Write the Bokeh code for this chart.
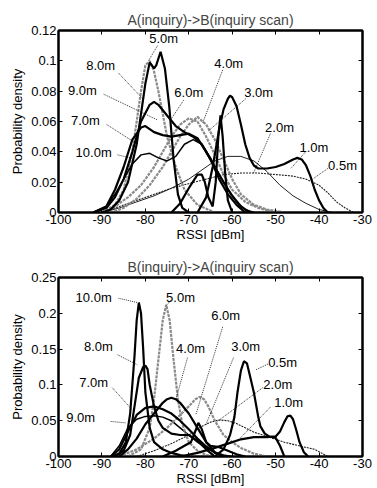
from bokeh.plotting import figure
from bokeh.layouts import column
from bokeh.models import LinearAxis, FixedTicker, Range1d
from bokeh.embed import file_html
from bokeh.resources import INLINE
from bokeh.core.properties import value

FONT = "Liberation Sans"

# ---------------- axis ticks ----------------
x_ticks = [-100, -90, -80, -70, -60, -50, -40, -30]
x_tick_labels = ["-100", "-90", "-80", "-70", "-60", "-50", "-40", "-30"]
top_y_ticks = [0, 0.02, 0.04, 0.06, 0.08, 0.1, 0.12]
top_y_tick_labels = ["0", "0.02", "0.04", "0.06", "0.08", "0.1", "0.12"]
bot_y_ticks = [0, 0.05, 0.1, 0.15, 0.2, 0.25]
bot_y_tick_labels = ["0", "0.05", "0.1", "0.15", "0.2", "0.25"]

# ---------------- A(inquiry)->B(inquiry scan) ----------------
ab_05_x = [-90, -86, -82, -78, -74, -70, -66, -62, -58, -54, -50, -46, -43, -40, -38, -36, -34, -32]
ab_05_y = [0, 0.004, 0.008, 0.012, 0.016, 0.019, 0.022, 0.025, 0.026, 0.026, 0.025, 0.024, 0.022, 0.018, 0.013, 0.007, 0.003, 0]
ab_10_x = [-68, -66, -64.5, -63, -62, -61, -60.5, -60, -59, -58, -57, -56, -55, -54, -52, -50, -48, -46, -45, -44, -43, -42, -41, -40, -39, -38]
ab_10_y = [0, 0.01, 0.03, 0.055, 0.068, 0.075, 0.077, 0.076, 0.07, 0.058, 0.045, 0.036, 0.031, 0.029, 0.029, 0.03, 0.032, 0.035, 0.036, 0.035, 0.031, 0.024, 0.015, 0.008, 0.003, 0]
ab_20_x = [-90, -86, -82, -78, -74, -70, -67, -64, -61, -58, -55, -52, -49, -46, -43, -40, -37]
ab_20_y = [0, 0.003, 0.007, 0.011, 0.016, 0.022, 0.028, 0.034, 0.037, 0.037, 0.034, 0.027, 0.018, 0.011, 0.006, 0.002, 0]
ab_30_x = [-74, -72, -70, -68, -67, -66.3, -65.5, -64.5, -63.8, -63.2, -62.7, -62.2, -61.6, -61, -60]
ab_30_y = [0, 0.006, 0.016, 0.025, 0.025, 0.02, 0.01, 0.004, 0.02, 0.05, 0.064, 0.05, 0.025, 0.008, 0]
ab_40_x = [-88, -85, -82, -79, -76, -74, -72, -70, -68, -66, -64, -62, -60, -58, -55, -52, -48]
ab_40_y = [0, 0.003, 0.009, 0.018, 0.03, 0.04, 0.05, 0.058, 0.063, 0.058, 0.048, 0.035, 0.022, 0.012, 0.005, 0.002, 0]
ab_50_x = [-90, -88, -86, -84, -82, -80, -79, -78, -77.5, -76.5, -75.5, -74.5, -73.5, -72.5, -71.5, -70]
ab_50_y = [0, 0.002, 0.008, 0.02, 0.045, 0.085, 0.099, 0.095, 0.097, 0.106, 0.095, 0.07, 0.035, 0.012, 0.003, 0]
ab_60_x = [-90, -87, -84, -81, -78, -76, -74, -72, -70, -68, -66, -64, -62, -60, -57, -54, -50]
ab_60_y = [0, 0.004, 0.01, 0.018, 0.03, 0.04, 0.05, 0.058, 0.062, 0.06, 0.05, 0.038, 0.025, 0.015, 0.007, 0.003, 0]
ab_70_x = [-92, -89, -87, -85, -83, -81, -80, -78, -76, -74, -72, -70, -68, -66, -64, -62, -60, -58, -56]
ab_70_y = [0, 0.004, 0.015, 0.03, 0.048, 0.056, 0.057, 0.053, 0.051, 0.05, 0.051, 0.052, 0.049, 0.04, 0.03, 0.02, 0.011, 0.004, 0]
ab_80_x = [-90, -87, -85, -83, -81, -80, -79, -78, -77, -75, -73, -71, -68, -64]
ab_80_y = [0, 0.005, 0.015, 0.04, 0.08, 0.097, 0.1, 0.093, 0.08, 0.05, 0.03, 0.015, 0.005, 0]
ab_90_x = [-92, -89, -87, -85, -83, -81, -79, -78, -77, -75, -73, -71, -69, -67, -65, -63, -61, -59, -57]
ab_90_y = [0, 0.003, 0.01, 0.022, 0.04, 0.06, 0.071, 0.073, 0.071, 0.064, 0.057, 0.053, 0.05, 0.045, 0.035, 0.022, 0.012, 0.005, 0]
ab_100_x = [-92, -89, -87, -85, -83, -81, -79, -77, -75, -73, -71, -69, -67, -65, -63, -61, -59, -57, -55]
ab_100_y = [0, 0.004, 0.012, 0.022, 0.032, 0.038, 0.039, 0.036, 0.034, 0.037, 0.045, 0.048, 0.045, 0.036, 0.025, 0.015, 0.007, 0.002, 0]

ab_label_text = ["5.0m", "8.0m", "9.0m", "6.0m", "7.0m", "10.0m", "4.0m", "3.0m", "2.0m", "1.0m", "0.5m"]
ab_label_x = [-75.8, -90.3, -94.5, -70.0, -93.8, -91.9, -60.8, -53.9, -49.1, -41.2, -34.6]
ab_label_y = [0.1147, 0.0969, 0.0804, 0.0791, 0.0606, 0.0396, 0.0982, 0.0791, 0.056, 0.0428, 0.031]
ab_lead_x0 = [-77.2, -86.2, -89.6, -71.2, -88.9, -86.4, -62.2, -56.9, -51.2, -43.1, -38.0]
ab_lead_y0 = [0.110, 0.092, 0.078, 0.074, 0.058, 0.038, 0.094, 0.075, 0.052, 0.040, 0.029]
ab_lead_x1 = [-79.3, -80.6, -77.2, -74.2, -82.9, -83.4, -66.8, -65.4, -55.1, -46.5, -41.5]
ab_lead_y1 = [0.100, 0.075, 0.061, 0.061, 0.047, 0.036, 0.059, 0.054, 0.026, 0.029, 0.022]

# ---------------- B(inquiry)->A(inquiry scan) ----------------
ba_05_x = [-64, -62, -60.5, -59.5, -58.8, -58, -57.3, -56.6, -56, -55, -54, -53.5, -52.5, -51.5, -50, -49, -48]
ba_05_y = [0, 0.01, 0.03, 0.055, 0.089, 0.12, 0.133, 0.13, 0.115, 0.089, 0.055, 0.042, 0.032, 0.028, 0.026, 0.015, 0]
ba_10_x = [-72, -68, -64, -61, -58, -55, -52, -50, -49, -48, -47.3, -46.6, -46, -45.3, -44.5, -43.5, -42.5]
ba_10_y = [0, 0.005, 0.012, 0.018, 0.024, 0.027, 0.027, 0.028, 0.035, 0.048, 0.056, 0.057, 0.052, 0.038, 0.02, 0.006, 0]
ba_20_x = [-82, -78, -74, -70, -67, -65, -63, -61, -59, -57, -55, -52, -48, -44, -41, -38]
ba_20_y = [0, 0.008, 0.018, 0.03, 0.042, 0.048, 0.051, 0.05, 0.046, 0.04, 0.034, 0.028, 0.02, 0.014, 0.01, 0]
ba_30_x = [-76, -73, -71, -69.5, -68.5, -67.8, -67, -66, -65, -63, -61, -59, -57]
ba_30_y = [0, 0.008, 0.015, 0.02, 0.035, 0.047, 0.038, 0.02, 0.015, 0.013, 0.008, 0.003, 0]
ba_40_x = [-86, -84, -82, -80, -78, -76, -75, -74, -73, -72, -70, -68, -66, -64, -62]
ba_40_y = [0, 0.01, 0.025, 0.045, 0.06, 0.075, 0.08, 0.082, 0.08, 0.075, 0.06, 0.04, 0.02, 0.006, 0]
ba_50_x = [-84, -81, -79, -78, -77, -76, -75.2, -74.4, -73.5, -72.5, -71.5, -70, -68, -66, -64]
ba_50_y = [0, 0.01, 0.04, 0.08, 0.135, 0.19, 0.212, 0.19, 0.135, 0.08, 0.045, 0.02, 0.008, 0.002, 0]
ba_60_x = [-86, -82, -78, -75, -72, -70, -68.5, -67.5, -66.5, -65.5, -64, -62, -60, -58, -55, -52]
ba_60_y = [0, 0.01, 0.025, 0.04, 0.058, 0.07, 0.08, 0.083, 0.08, 0.07, 0.05, 0.03, 0.02, 0.012, 0.004, 0]
ba_70_x = [-88, -86, -84, -82, -80, -78, -76, -74, -72, -70, -68, -66, -64, -62]
ba_70_y = [0, 0.01, 0.035, 0.058, 0.068, 0.07, 0.066, 0.06, 0.05, 0.038, 0.025, 0.014, 0.005, 0]
ba_80_x = [-87, -85, -83.5, -82.5, -81.5, -80.5, -80, -79.5, -79, -78, -77, -76, -74, -72, -70, -68, -66, -64]
ba_80_y = [0, 0.008, 0.03, 0.07, 0.11, 0.125, 0.127, 0.122, 0.1, 0.07, 0.05, 0.04, 0.032, 0.03, 0.03, 0.022, 0.01, 0]
ba_90_x = [-88, -86, -84, -82, -80, -78, -76, -74, -72, -70, -68, -66, -64, -62, -60]
ba_90_y = [0, 0.015, 0.04, 0.052, 0.056, 0.057, 0.055, 0.05, 0.04, 0.03, 0.02, 0.012, 0.006, 0.002, 0]
ba_100_x = [-88, -86, -84.5, -83.5, -82.5, -82, -81.5, -81, -80.5, -80, -79, -78, -76, -74, -72, -70]
ba_100_y = [0, 0.004, 0.02, 0.06, 0.14, 0.19, 0.215, 0.2, 0.15, 0.09, 0.04, 0.02, 0.01, 0.005, 0.002, 0]

ba_label_text = ["10.0m", "5.0m", "8.0m", "4.0m", "6.0m", "3.0m", "0.5m", "2.0m", "1.0m", "7.0m", "9.0m"]
ba_label_x = [-91.9, -71.9, -90.8, -69.6, -61.5, -56.9, -48.4, -49.5, -47.0, -91.9, -94.9]
ba_label_y = [0.222, 0.222, 0.153, 0.151, 0.197, 0.153, 0.131, 0.100, 0.075, 0.103, 0.054]
ba_lead_x0 = [-86.2, -74.2, -86.4, -70.3, -62.2, -59.7, -51.8, -53.0, -51.2, -87.6, -88.0]
ba_lead_y0 = [0.221, 0.218, 0.142, 0.138, 0.181, 0.138, 0.129, 0.096, 0.069, 0.096, 0.049]
ba_lead_x1 = [-81.8, -75.1, -81.8, -73.0, -68.4, -66.1, -54.6, -63.4, -58.1, -83.0, -84.6]
ba_lead_y1 = [0.215, 0.211, 0.128, 0.079, 0.058, 0.044, 0.121, 0.049, 0.026, 0.065, 0.047]

THICK = dict(line_color="black", line_width=2.2)
MED = dict(line_color="black", line_width=1.5)
THIN = dict(line_color="#222222", line_width=1.0)
DOT = dict(line_color="#222222", line_width=1.1, line_dash="2 1")
GRAY = dict(line_color="#8a8a8a", line_width=2.2, line_dash="3 1")

ab_series = [
    (ab_05_x, ab_05_y, DOT), (ab_20_x, ab_20_y, THIN),
    (ab_40_x, ab_40_y, GRAY), (ab_60_x, ab_60_y, GRAY), (ab_80_x, ab_80_y, GRAY),
    (ab_100_x, ab_100_y, MED), (ab_70_x, ab_70_y, THICK), (ab_90_x, ab_90_y, THICK),
    (ab_30_x, ab_30_y, THICK), (ab_10_x, ab_10_y, THICK), (ab_50_x, ab_50_y, THICK),
]
ba_series = [
    (ba_20_x, ba_20_y, DOT), (ba_90_x, ba_90_y, MED),
    (ba_50_x, ba_50_y, GRAY), (ba_60_x, ba_60_y, GRAY),
    (ba_70_x, ba_70_y, THICK), (ba_40_x, ba_40_y, THICK), (ba_30_x, ba_30_y, THICK),
    (ba_80_x, ba_80_y, THICK), (ba_100_x, ba_100_y, THICK),
    (ba_05_x, ba_05_y, THICK), (ba_10_x, ba_10_y, THICK),
]


def make_panel(title, y_max, y_ticks, y_labels, series, lab_t, lab_x, lab_y,
               lx0, ly0, lx1, ly1, height, border_top, border_bottom):
    p = figure(width=377, height=height, output_backend="svg", toolbar_location=None,
               x_range=Range1d(-100, -30), y_range=Range1d(0, y_max),
               min_border_left=58, min_border_right=15,
               min_border_top=border_top, min_border_bottom=border_bottom)
    p.title.text = title
    p.title.align = "center"
    p.title.text_font = FONT
    p.title.text_font_size = "14px"
    p.title.text_font_style = "normal"
    p.title.standoff = 5
    p.xgrid.visible = False
    p.ygrid.visible = False
    p.outline_line_color = "black"
    p.outline_line_width = 2
    p.background_fill_color = "white"
    p.border_fill_color = "white"

    for ax, ticks, labels in ((p.xaxis[0], x_ticks, x_tick_labels), (p.yaxis[0], y_ticks, y_labels)):
        ax.ticker = FixedTicker(ticks=ticks)
        ax.major_label_overrides = {t: l for t, l in zip(ticks, labels)}
        ax.major_tick_in = 4
        ax.major_tick_out = 0
        ax.minor_tick_in = 0
        ax.minor_tick_out = 0
        ax.axis_line_width = 2
        ax.major_label_text_font = FONT
        ax.major_label_text_font_size = "13px"
        ax.major_label_text_color = "black"
        ax.major_label_standoff = 2
        ax.axis_label_text_font = FONT
        ax.axis_label_text_font_size = "13px"
        ax.axis_label_text_font_style = "normal"
        ax.axis_label_text_color = "black"
    p.xaxis.axis_label = "RSSI [dBm]"
    p.xaxis.axis_label_standoff = 0
    p.yaxis.axis_label = "Probability density"
    p.yaxis.axis_label_standoff = 3

    for loc, ticks in (("right", y_ticks), ("above", x_ticks)):
        ax = LinearAxis(ticker=FixedTicker(ticks=ticks),
                        major_label_overrides={t: "" for t in ticks},
                        major_tick_in=4, major_tick_out=0, minor_tick_in=0, minor_tick_out=0,
                        axis_line_width=2, major_label_standoff=0,
                        major_label_text_font_size="1px")
        p.add_layout(ax, loc)

    for xs, ys, st in series:
        p.line(xs, ys, **st)

    for a, b, c, d in zip(lx0, ly0, lx1, ly1):
        p.line([a, c], [b, d], line_color="black", line_width=0.8, line_dash="1 1")
    p.text(lab_x, lab_y, text=lab_t, text_font=value(FONT), text_font_size="13px",
           text_align="center", text_baseline="middle", text_color="black")
    return p


p1 = make_panel("A(inquiry)->B(inquiry scan)", 0.12, top_y_ticks, top_y_tick_labels, ab_series,
                ab_label_text, ab_label_x, ab_label_y, ab_lead_x0, ab_lead_y0, ab_lead_x1, ab_lead_y1,
                248, 30, 36)
p2 = make_panel("B(inquiry)->A(inquiry scan)", 0.25, bot_y_ticks, bot_y_tick_labels, ba_series,
                ba_label_text, ba_label_x, ba_label_y, ba_lead_x0, ba_lead_y0, ba_lead_x1, ba_lead_y1,
                240, 29, 32)

layout = column(p1, p2, spacing=0)
open("out.html", "w").write(file_html(layout, INLINE))
